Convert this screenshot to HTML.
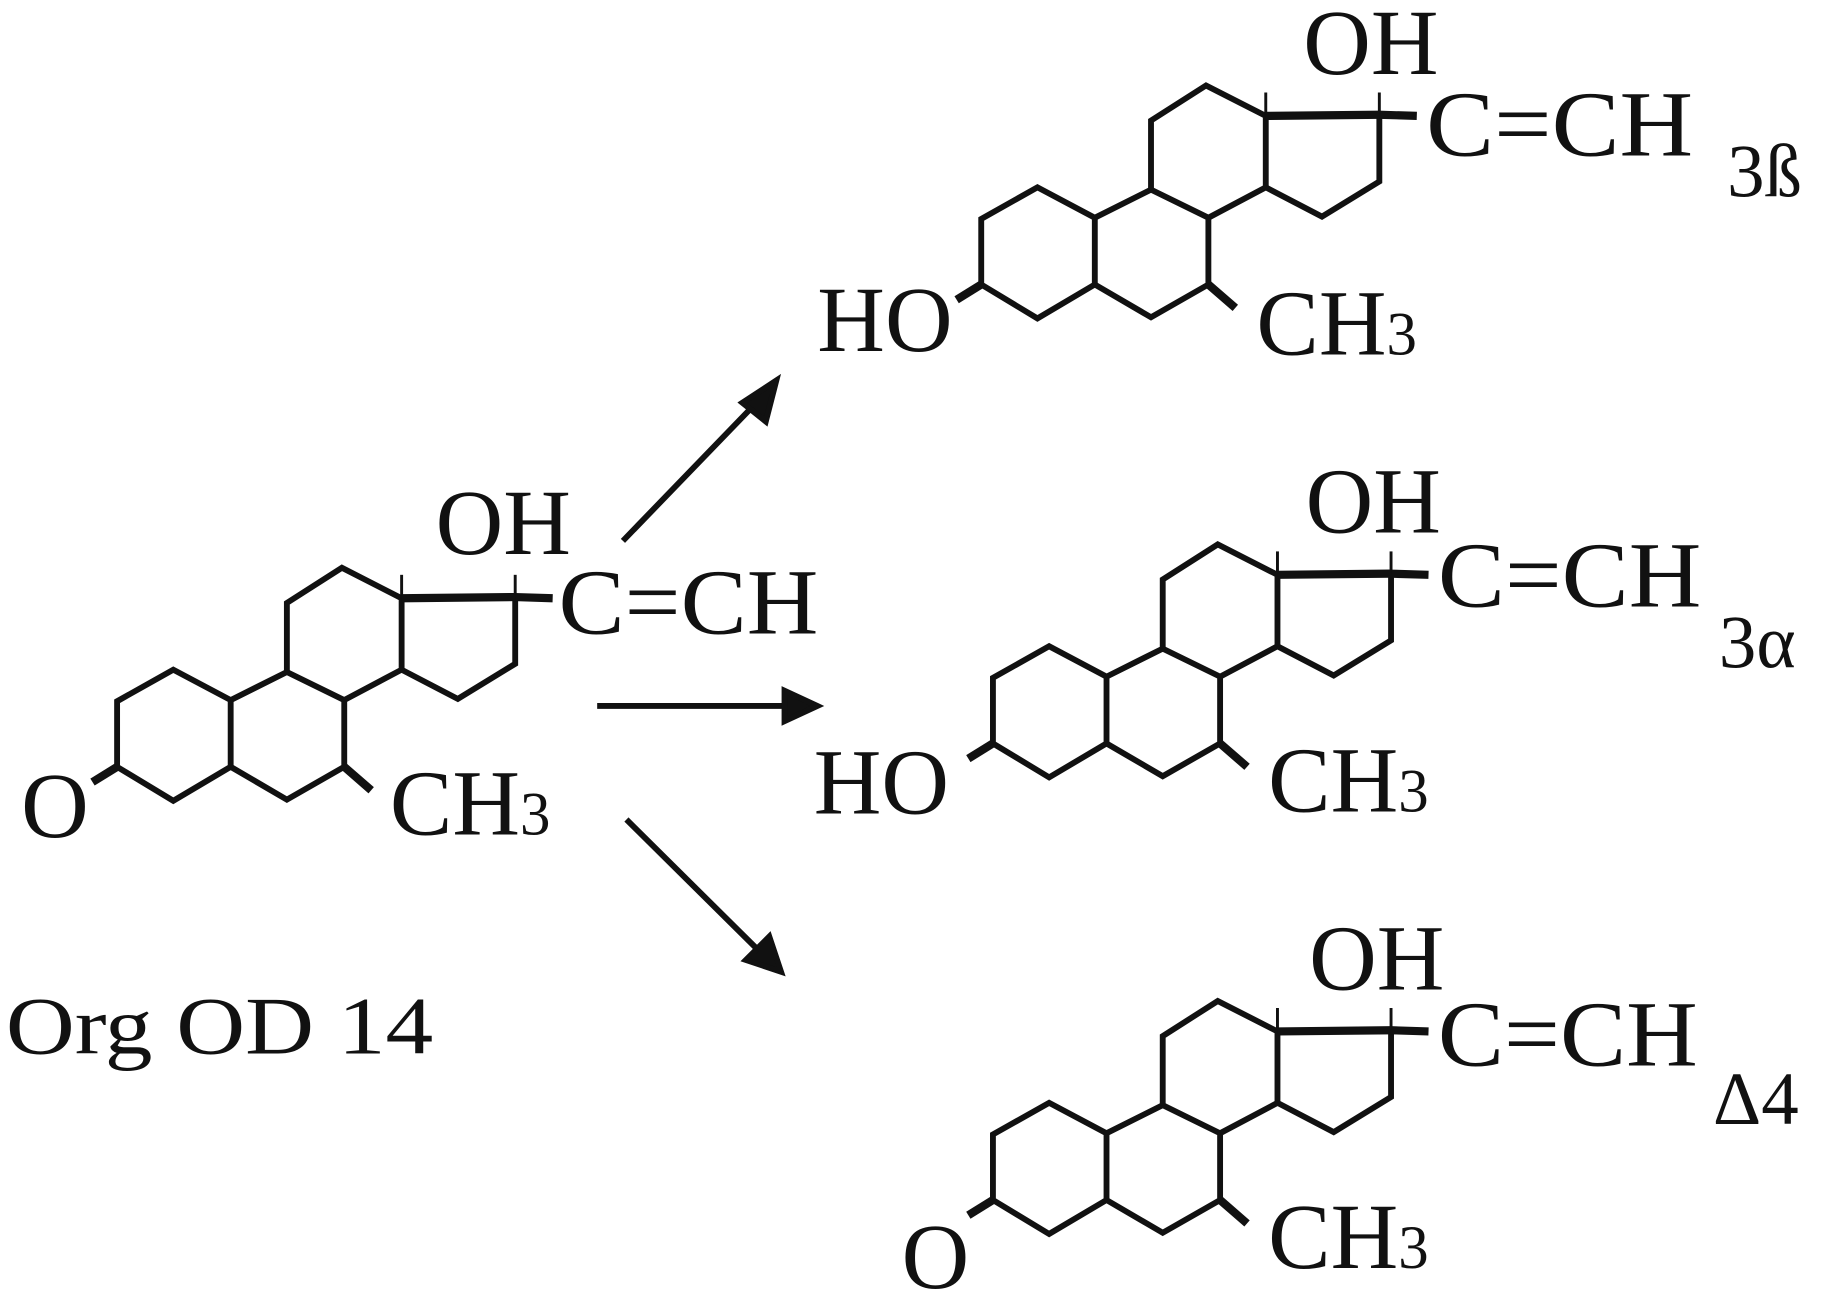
<!DOCTYPE html>
<html><head><meta charset="utf-8"><style>
html,body{margin:0;padding:0;background:#fff;}
svg{display:block;}
text{font-family:"Liberation Serif",serif;fill:#111;}
</style></head><body>
<svg width="1836" height="1296" viewBox="0 0 1568 1107" preserveAspectRatio="none" xmlns="http://www.w3.org/2000/svg">
<defs>
<g id="mol" fill="none" stroke="#111" stroke-width="5" stroke-linejoin="miter">
<polygon points="148,572 197,598 197,655 148,684 100,655 100,599"/>
<polyline points="197,598 245,574 294,598 294,655 245,683 197,655"/>
<polyline points="245,574 245,515 292,485 343,511 343,572 294,598"/>
<polyline points="343,511 440,510 440,567 391,597 343,572"/>
<line x1="343" y1="511" x2="343" y2="491" stroke-width="2.5"/>
<line x1="440" y1="510" x2="440" y2="491" stroke-width="2.5"/>
<line x1="343" y1="511" x2="440" y2="510" stroke-width="7"/>
<line x1="440" y1="510" x2="472" y2="511" stroke-width="7"/>
<line x1="100" y1="655" x2="79" y2="668" stroke-width="7"/>
<line x1="294" y1="655" x2="317" y2="675" stroke-width="7"/>
</g>
</defs>
<use href="#mol"/>
<use href="#mol" transform="translate(738,-412)"/>
<use href="#mol" transform="translate(748,-20)"/>
<use href="#mol" transform="translate(748,370)"/>

<g font-size="80">
<text x="18" y="715">O</text>
<text x="372" y="473">OH</text>
<text x="477" y="541" textLength="222" lengthAdjust="spacingAndGlyphs">C=CH</text>
<text x="333" y="713">CH<tspan font-size="52">3</tspan></text>

<text x="1113" y="63">OH</text>
<text x="1218" y="133" textLength="228" lengthAdjust="spacingAndGlyphs">C=CH</text>
<text x="1073" y="303">CH<tspan font-size="52">3</tspan></text>
<text x="698" y="300">HO</text>

<text x="1115" y="455">OH</text>
<text x="1228" y="518" textLength="225" lengthAdjust="spacingAndGlyphs">C=CH</text>
<text x="1083" y="693">CH<tspan font-size="52">3</tspan></text>
<text x="695" y="695">HO</text>

<text x="1118" y="845">OH</text>
<text x="1228" y="910" textLength="222" lengthAdjust="spacingAndGlyphs">C=CH</text>
<text x="1083" y="1083">CH<tspan font-size="52">3</tspan></text>
<text x="770" y="1100">O</text>
</g>
<g font-size="64">
<text x="1475" y="168">3ß</text>
<text x="1468" y="570">3α</text>
<text x="1463" y="960">Δ4</text>
<text x="5" y="900" font-size="70" textLength="365" lengthAdjust="spacingAndGlyphs">Org OD 14</text>
</g>
<g stroke="#111" stroke-width="5" fill="#111">
<line x1="532" y1="462" x2="645" y2="345"/>
<polygon points="663,325 634,344 654,360"/>
<line x1="510" y1="603" x2="675" y2="603"/>
<polygon points="698,603 670,590 670,616"/>
<line x1="535" y1="700" x2="648" y2="812"/>
<polygon points="667,830 657,800 637,820"/>
</g>
</svg>
</body></html>
